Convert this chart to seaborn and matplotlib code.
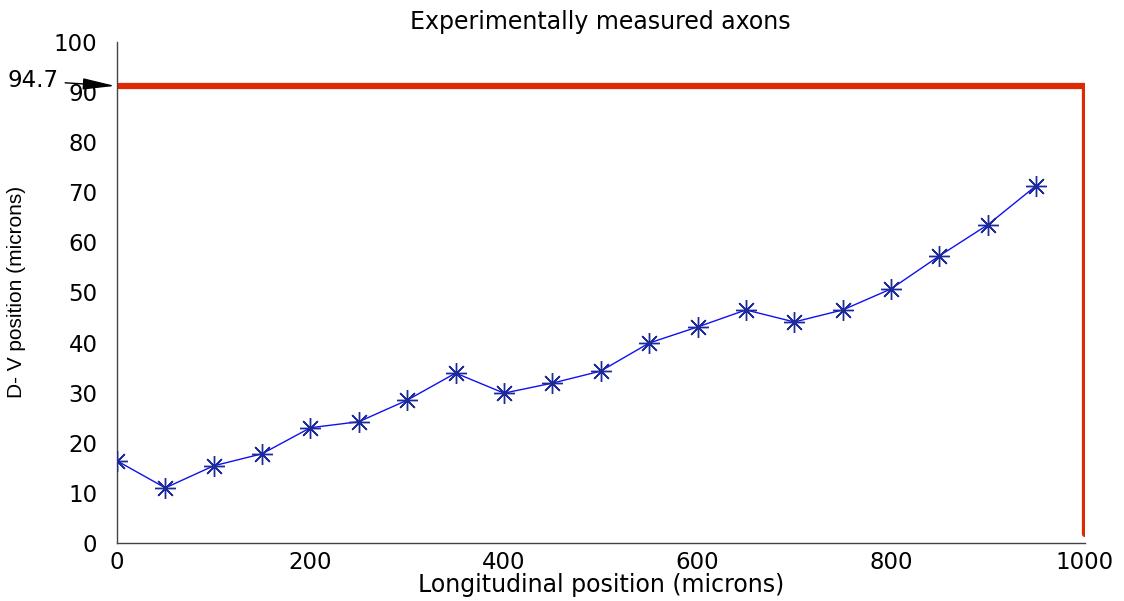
import matplotlib
matplotlib.use("Agg")
import matplotlib.pyplot as plt
import seaborn as sns
import pandas as pd

# Measured axon trajectory
longitudinal_um = [0, 50, 100, 150, 200, 250, 300, 350, 400, 450,
                   500, 550, 600, 650, 700, 750, 800, 850, 900, 950]
dv_position_um = [16.4, 11.0, 15.4, 17.8, 23.0, 24.2, 28.5, 33.9, 29.9, 31.9,
                  34.3, 39.9, 43.1, 46.5, 44.1, 46.5, 50.7, 57.3, 63.5, 71.3]

# Boundary of the measured region
boundary_x = [0, 1000, 1000]
boundary_y = [91.2, 91.2, 1.8]
boundary_label = "94.7"

x_ticks = [0, 200, 400, 600, 800, 1000]
y_ticks = [0, 10, 20, 30, 40, 50, 60, 70, 80, 90, 100]

sns.set_theme(style="white")
plt.rcParams["font.family"] = ["DejaVu Sans"]
plt.rcParams["text.color"] = "black"
plt.rcParams["axes.labelcolor"] = "black"

df = pd.DataFrame({"x": longitudinal_um, "y": dv_position_um})

fig = plt.figure(figsize=(11.24, 6.01), dpi=100)
ax = fig.add_axes([0.104, 0.0965, 0.861, 0.834])

ax.plot(boundary_x, boundary_y, color="#dd2a05", linewidth=4.5,
        solid_joinstyle="miter", zorder=2)

sns.lineplot(data=df, x="x", y="y", ax=ax, color="#1010f0", linewidth=1.0,
             marker=(8, 2, 0), markersize=15, markeredgecolor="#1c2a9a",
             markeredgewidth=1.0, zorder=3)

ax.set_xlim(0, 1000)
ax.set_ylim(0, 100)
ax.set_xticks(x_ticks)
ax.set_yticks(y_ticks)
ax.tick_params(axis="both", direction="in", length=8, width=1, color="#444444",
               labelsize=16.5, labelcolor="black")
ax.tick_params(axis="y", pad=14)
ax.tick_params(axis="x", pad=6)

for side in ("top", "right"):
    ax.spines[side].set_visible(False)
for side in ("left", "bottom"):
    ax.spines[side].set_color("#444444")
    ax.spines[side].set_linewidth(1.0)

ax.set_title("Experimentally measured axons", fontsize=17, pad=9)
ax.set_xlabel("Longitudinal position (microns)", fontsize=17, labelpad=-1)
ax.set_ylabel("D- V position (microns)", fontsize=15, labelpad=20,
              family="Liberation Sans")

ax.annotate(boundary_label, xy=(-2, boundary_y[0]), xytext=(-107, 92.2),
            textcoords=("offset pixels", "data"), xycoords="data",
            fontsize=16.5, va="center", ha="left",
            arrowprops=dict(arrowstyle="-|>,head_length=0.9,head_width=0.16",
                            color="black", lw=1.0, mutation_scale=22,
                            shrinkA=2, shrinkB=0),
            annotation_clip=False)

fig.savefig("out.png", dpi=100)
